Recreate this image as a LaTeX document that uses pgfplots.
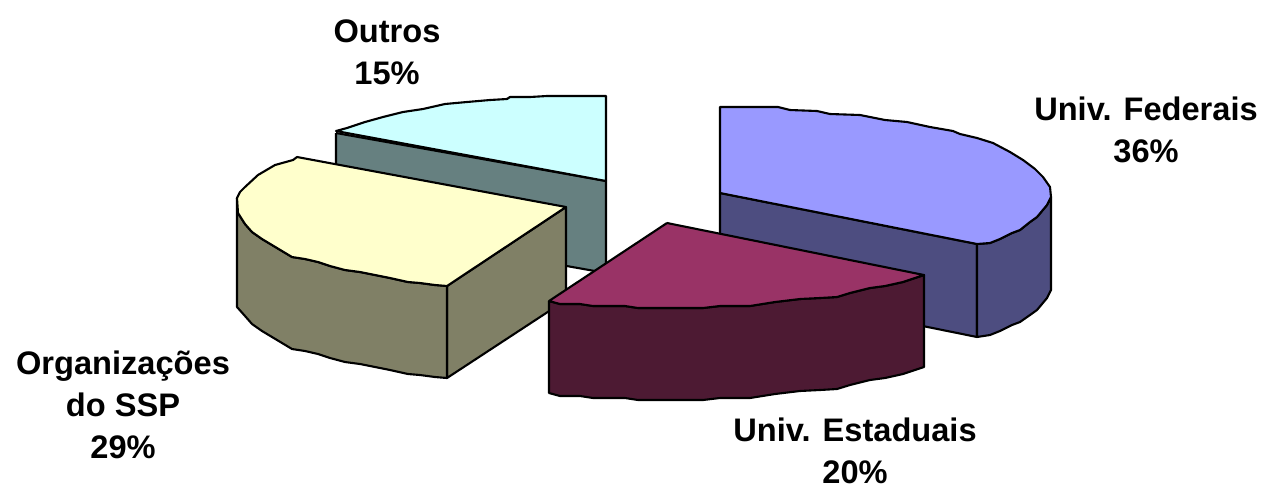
\documentclass[border=0pt]{standalone}
\usepackage{fontspec}
\setmainfont{Liberation Sans}
\usepackage{pgfplots}
\pgfplotsset{compat=1.18}
\definecolor{fedT}{HTML}{9999FF}\definecolor{fedW}{HTML}{4D4D80}
\definecolor{estT}{HTML}{993366}\definecolor{estW}{HTML}{4D1A33}
\definecolor{orgT}{HTML}{FFFFCC}\definecolor{orgW}{HTML}{808066}
\definecolor{outT}{HTML}{CCFFFF}\definecolor{outW}{HTML}{668080}
\tikzset{lab/.style={font=\fontsize{16.3}{21}\selectfont\bfseries,align=center,anchor=center,inner sep=0pt}}
\begin{document}
\begin{tikzpicture}
\begin{axis}[scale only axis,width=632pt,height=244.5pt,xmin=0,xmax=1264,ymin=0,ymax=489,y dir=reverse,hide axis,clip=false,no markers,
  every axis plot/.append style={draw=black,line width=1.05pt,line join=round,solid}]
\path (axis cs:0,0) (axis cs:1264,489);
% Outros
\addplot[fill=outW] coordinates {(336,133)(606,181)(606,273)(336,225)(336,133)};
\addplot[fill=outT] coordinates {(606,181)(336,131)(347,128)(365,122)(383,117)(403,112)(423,109)(445,104)(467,102)(490,100)(507,99)(510,97)(530,97)(547,96)(606,96)(606,181)};
% Univ. Federais
\addplot[fill=fedW] coordinates {(720,193)(977,244)(977,337)(720,285)(720,193)};
\addplot[fill=fedW] coordinates {(977,244)(990,243)(1000,239)(1012,233)(1020,230)(1030,222)(1037,217)(1047,205)(1051,197)(1051,290)(1047,298)(1037,310)(1030,315)(1020,322)(1012,325)(1000,331)(990,335)(977,337)(977,244)};
\addplot[fill=fedT] coordinates {(720,193)(720,107)(778,107)(790,110)(817,111)(830,114)(860,115)(885,120)(907,122)(930,127)(953,131)(960,134)(977,138)(993,143)(1010,152)(1023,160)(1035,169)(1043,177)(1050,187)(1051,197)(1047,205)(1037,217)(1030,222)(1020,230)(1012,233)(1000,239)(990,243)(977,244)(720,193)};
% Organizacoes
\addplot[fill=orgW] coordinates {(447,286)(566,207)(566,300)(447,378)(447,286)};
\addplot[fill=orgW] coordinates {(237,198)(238,213)(245,224)(252,232)(262,239)(272,245)(282,251)(292,257)(305,259)(318,262)(330,266)(345,270)(360,272)(375,275)(390,278)(408,282)(420,283)(435,285)(447,286)(447,378)(435,377)(420,375)(408,374)(390,370)(375,367)(360,364)(345,362)(330,358)(318,354)(305,351)(292,349)(282,343)(272,337)(262,331)(252,324)(245,316)(237,307)(237,198)};
\addplot[fill=orgT] coordinates {(566,207)(297,157)(293,160)(275,165)(258,175)(245,187)(240,192)(237,198)(238,213)(245,224)(252,232)(262,239)(272,245)(282,251)(292,257)(305,259)(318,262)(330,266)(345,270)(360,272)(375,275)(390,278)(408,282)(420,283)(435,285)(447,286)(566,207)};
% Univ. Estaduais
\addplot[fill=estW] coordinates {(549,301)(560,304)(580,304)(593,306)(625,306)(638,308)(703,308)(720,306)(750,306)(775,302)(800,299)(820,298)(837,297)(850,293)(870,288)(885,286)(903,282)(924,275)(924,367)(903,374)(885,378)(870,380)(850,385)(837,389)(820,390)(800,391)(775,394)(750,398)(720,398)(703,400)(638,400)(625,398)(593,398)(580,396)(560,396)(549,393)(549,301)};
\addplot[fill=estT] coordinates {(667,223)(924,275)(903,282)(885,286)(870,288)(850,293)(837,297)(820,298)(800,299)(775,302)(750,306)(720,306)(703,308)(638,308)(625,306)(593,306)(580,304)(560,304)(549,301)(667,223)};
% Labels
\node[lab] at (axis cs:1146,130) {Univ. Federais\\36\%};
\node[lab] at (axis cs:855,451) {Univ. Estaduais\\20\%};
\node[lab] at (axis cs:123,405) {Organizações\\do SSP\\29\%};
\node[lab] at (axis cs:387,52) {Outros\\15\%};
\end{axis}
\end{tikzpicture}
\end{document}
